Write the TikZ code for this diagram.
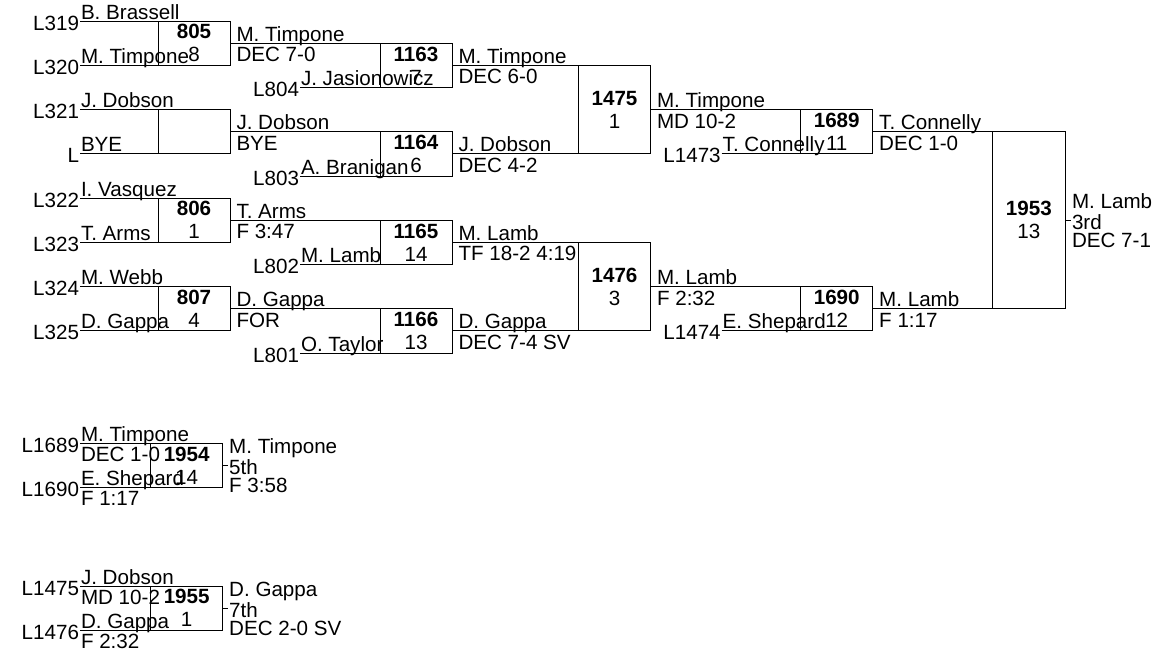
\documentclass[tikz,border=0pt]{standalone}
\usepackage{fontspec}
\setmainfont{Liberation Sans}
\begin{document}
\begin{tikzpicture}[x=1pt, y=-1pt, line width=1pt,
    every node/.style={font=\fontsize{20.6}{23}\selectfont, inner sep=0pt},
    bout/.style={draw, rectangle, minimum width=72pt, minimum height=44.25pt, outer sep=0pt, align=center},
    namepos/.style={anchor=base west, xshift=0.5pt, yshift=2pt},
    scorepos/.style={anchor=base west, xshift=0.5pt, yshift=-18.5pt},
    wnamepos/.style={anchor=base west, xshift=6pt, yshift=2pt},
    wscorepos/.style={anchor=base west, xshift=6pt, yshift=-18.5pt},
    seatpos/.style={anchor=base east, xshift=-0.5pt, yshift=-9pt},
    winpos/.style={anchor=base west, xshift=0.5pt, yshift=12pt},
    placepos/.style={anchor=base west, xshift=0.5pt, yshift=-9.5pt},
    finpos/.style={anchor=base west, xshift=0.5pt, yshift=-27pt}]
    \useasboundingbox (0, 0) rectangle (1156, 654);

    \coordinate (e319) at (80, 21.125);
    \coordinate (e320) at (80, 65.375);
    \coordinate (e321) at (80, 109.625);
    \coordinate (ebye) at (80, 153.875);
    \coordinate (e322) at (80, 198.125);
    \coordinate (e323) at (80, 242.375);
    \coordinate (e324) at (80, 286.625);
    \coordinate (e325) at (80, 330.875);
    \node[seatpos] (l319) at (e319) {L319};
    \node[seatpos] (l320) at (e320) {L320};
    \node[seatpos] (l321) at (e321) {L321};
    \node[seatpos] (lbye) at (ebye) {L};
    \node[seatpos] (l322) at (e322) {L322};
    \node[seatpos] (l323) at (e323) {L323};
    \node[seatpos] (l324) at (e324) {L324};
    \node[seatpos] (l325) at (e325) {L325};
    \node[namepos] (n319) at (e319) {B. Brassell};
    \node[namepos] (n320) at (e320) {M. Timpone};
    \node[namepos] (n321) at (e321) {J. Dobson};
    \node[namepos] (nbye) at (ebye) {BYE};
    \node[namepos] (n322) at (e322) {I. Vasquez};
    \node[namepos] (n323) at (e323) {T. Arms};
    \node[namepos] (n324) at (e324) {M. Webb};
    \node[namepos] (n325) at (e325) {D. Gappa};

    \node[bout] (b805) at (194, 43.25) {\textbf{805}\\8};
    \node[bout] (bbye) at (194, 131.75) {};
    \node[bout] (b806) at (194, 220.25) {\textbf{806}\\1};
    \node[bout] (b807) at (194, 308.75) {\textbf{807}\\4};
    \draw (e319) -- (b805.north east);
    \draw (e320) -- (b805.south east);
    \draw (e321) -- (bbye.north east);
    \draw (ebye) -- (bbye.south east);
    \draw (e322) -- (b806.north east);
    \draw (e323) -- (b806.south east);
    \draw (e324) -- (b807.north east);
    \draw (e325) -- (b807.south east);

    \coordinate (e804) at (300, 87.5);
    \coordinate (e803) at (300, 176);
    \coordinate (e802) at (300, 264.5);
    \coordinate (e801) at (300, 353);
    \node[seatpos] (l804) at (e804) {L804};
    \node[seatpos] (l803) at (e803) {L803};
    \node[seatpos] (l802) at (e802) {L802};
    \node[seatpos] (l801) at (e801) {L801};
    \node[namepos] (n804) at (e804) {J. Jasionowicz};
    \node[namepos] (n803) at (e803) {A. Branigan};
    \node[namepos] (n802) at (e802) {M. Lamb};
    \node[namepos] (n801) at (e801) {O. Taylor};
    \node[wnamepos] (w805) at (b805.east) {M. Timpone};
    \node[wscorepos] (s805) at (b805.east) {DEC 7-0};
    \node[wnamepos] (wbye) at (bbye.east) {J. Dobson};
    \node[wscorepos] (sbye) at (bbye.east) {BYE};
    \node[wnamepos] (w806) at (b806.east) {T. Arms};
    \node[wscorepos] (s806) at (b806.east) {F 3:47};
    \node[wnamepos] (w807) at (b807.east) {D. Gappa};
    \node[wscorepos] (s807) at (b807.east) {FOR};

    \node[bout] (b1163) at (416, 65.375) {\textbf{1163}\\7};
    \node[bout] (b1164) at (416, 153.875) {\textbf{1164}\\6};
    \node[bout] (b1165) at (416, 242.375) {\textbf{1165}\\14};
    \node[bout] (b1166) at (416, 330.875) {\textbf{1166}\\13};
    \draw (b805.east) -- (b1163.north east);
    \draw (e804) -- (b1163.south east);
    \draw (bbye.east) -- (b1164.north east);
    \draw (e803) -- (b1164.south east);
    \draw (b806.east) -- (b1165.north east);
    \draw (e802) -- (b1165.south east);
    \draw (b807.east) -- (b1166.north east);
    \draw (e801) -- (b1166.south east);

    \node[wnamepos] (w1163) at (b1163.east) {M. Timpone};
    \node[wscorepos] (s1163) at (b1163.east) {DEC 6-0};
    \node[wnamepos] (w1164) at (b1164.east) {J. Dobson};
    \node[wscorepos] (s1164) at (b1164.east) {DEC 4-2};
    \node[wnamepos] (w1165) at (b1165.east) {M. Lamb};
    \node[wscorepos] (s1165) at (b1165.east) {TF 18-2 4:19};
    \node[wnamepos] (w1166) at (b1166.east) {D. Gappa};
    \node[wscorepos] (s1166) at (b1166.east) {DEC 7-4 SV};

    \node[bout, minimum height=88.5pt] (b1475) at (614.5, 109.625) {\textbf{1475}\\1};
    \node[bout, minimum height=88.5pt] (b1476) at (614.5, 286.625) {\textbf{1476}\\3};
    \draw (b1163.east) -- (b1475.north east);
    \draw (b1164.east) -- (b1475.south east);
    \draw (b1165.east) -- (b1476.north east);
    \draw (b1166.east) -- (b1476.south east);

    \coordinate (e1473) at (721.7, 153.875);
    \coordinate (e1474) at (721.7, 330.875);
    \node[seatpos] (l1473) at (e1473) {L1473};
    \node[seatpos] (l1474) at (e1474) {L1474};
    \node[namepos] (n1473) at (e1473) {T. Connelly};
    \node[namepos] (n1474) at (e1474) {E. Shepard};
    \node[wnamepos] (w1475) at (b1475.east) {M. Timpone};
    \node[wscorepos] (s1475) at (b1475.east) {MD 10-2};
    \node[wnamepos] (w1476) at (b1476.east) {M. Lamb};
    \node[wscorepos] (s1476) at (b1476.east) {F 2:32};

    \node[bout] (b1689) at (836.7, 131.75) {\textbf{1689}\\11};
    \node[bout] (b1690) at (836.7, 308.75) {\textbf{1690}\\12};
    \draw (b1475.east) -- (b1689.north east);
    \draw (e1473) -- (b1689.south east);
    \draw (b1476.east) -- (b1690.north east);
    \draw (e1474) -- (b1690.south east);
    \node[wnamepos] (w1689) at (b1689.east) {T. Connelly};
    \node[wscorepos] (s1689) at (b1689.east) {DEC 1-0};
    \node[wnamepos] (w1690) at (b1690.east) {M. Lamb};
    \node[wscorepos] (s1690) at (b1690.east) {F 1:17};

    \node[bout, minimum width=72.3pt, minimum height=177pt] (b1953) at (1028.85, 220.25) {\textbf{1953}\\13};
    \draw (b1689.east) -- (b1953.north east);
    \draw (b1690.east) -- (b1953.south east);
    \coordinate (t1953) at ([xshift=6pt]b1953.east);
    \draw (b1953.east) -- (t1953);
    \node[winpos] (w1953) at (t1953) {M. Lamb};
    \node[placepos] (p1953) at (t1953) {3rd};
    \node[finpos] (s1953) at (t1953) {DEC 7-1};

    \coordinate (e1689) at (80, 443.3);
    \coordinate (e1690) at (80, 487.3);
    \node[seatpos] (l1689) at (e1689) {L1689};
    \node[seatpos] (l1690) at (e1690) {L1690};
    \node[namepos] (n1689) at (e1689) {M. Timpone};
    \node[scorepos] (c1689) at (e1689) {DEC 1-0};
    \node[namepos] (n1690) at (e1690) {E. Shepard};
    \node[scorepos] (c1690) at (e1690) {F 1:17};
    \node[bout, minimum height=44pt] (b1954) at (186.7, 465.3) {\textbf{1954}\\14};
    \draw (e1689) -- (b1954.north east);
    \draw (e1690) -- (b1954.south east);
    \coordinate (t1954) at ([xshift=5.5pt]b1954.east);
    \draw (b1954.east) -- (t1954);
    \node[winpos] (w1954) at (t1954) {M. Timpone};
    \node[placepos] (p1954) at (t1954) {5th};
    \node[finpos] (s1954) at (t1954) {F 3:58};

    \coordinate (e1475) at (80, 586);
    \coordinate (e1476) at (80, 630);
    \node[seatpos] (l1475) at (e1475) {L1475};
    \node[seatpos] (l1476) at (e1476) {L1476};
    \node[namepos] (n1475) at (e1475) {J. Dobson};
    \node[scorepos] (c1475) at (e1475) {MD 10-2};
    \node[namepos] (n1476) at (e1476) {D. Gappa};
    \node[scorepos] (c1476) at (e1476) {F 2:32};
    \node[bout, minimum height=44pt] (b1955) at (186.7, 608) {\textbf{1955}\\1};
    \draw (e1475) -- (b1955.north east);
    \draw (e1476) -- (b1955.south east);
    \coordinate (t1955) at ([xshift=5.5pt]b1955.east);
    \draw (b1955.east) -- (t1955);
    \node[winpos] (w1955) at (t1955) {D. Gappa};
    \node[placepos] (p1955) at (t1955) {7th};
    \node[finpos] (s1955) at (t1955) {DEC 2-0 SV};
  \end{tikzpicture}
\end{document}
